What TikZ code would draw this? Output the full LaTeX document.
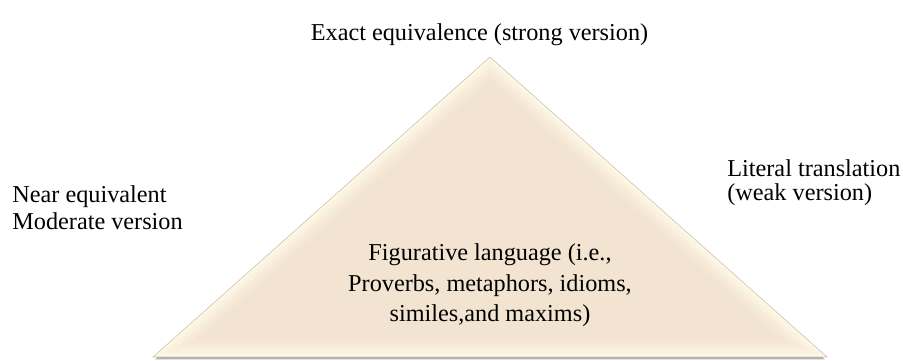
\documentclass[tikz,border=0pt]{standalone}
\usepackage{fontspec}
\setmainfont{Liberation Serif}
\usetikzlibrary{calc}
\definecolor{pyrtan}{RGB}{242,228,209}
\definecolor{pyrcream}{RGB}{255,250,233}
\definecolor{pyredge}{RGB}{200,186,170}
\tikzset{
  lbl/.style={inner sep=0pt, font=\fontsize{13.8}{15}\selectfont},
}
\begin{document}
\begin{tikzpicture}
\useasboundingbox (0,0) rectangle (18.06,7.22);
\coordinate (apex) at (9.80,6.08);
\coordinate (baseL) at (3.06,0.08);
\coordinate (baseR) at (16.54,0.08);
\coordinate (inc) at (9.80,2.646);
%
\fill[black!30] ($(baseL)+(0.04,-0.05)$)--($(baseR)+(-0.04,-0.05)$)--($(apex)+(0,-0.05)$)--cycle;
\foreach \k in {0,...,18}{
  \pgfmathsetmacro{\f}{1-\k*0.02/2.566}
  \pgfmathsetmacro{\p}{100*(\k/18)^0.8}
  \fill[pyrtan!\p!pyrcream] ($(inc)!\f!(apex)$)--($(inc)!\f!(baseL)$)--($(inc)!\f!(baseR)$)--cycle;
}
\draw[pyredge, line width=0.3pt] (apex)--(baseL)--(baseR)--cycle;
%
\node[lbl, anchor=base] (exact) at (9.59,6.40) {Exact equivalence (strong version)};
\node[lbl, anchor=base west, align=left, font=\fontsize{13.8}{15.1}\selectfont] (near) at (0.24,2.634) {Near equivalent\\Moderate version};
\node[lbl, anchor=base west, align=left, font=\fontsize{13.8}{13.7}\selectfont] (literal) at (14.54,3.21) {Literal translation\\(weak version)};
\node[lbl, anchor=base, align=center, font=\fontsize{13.8}{17.4}\selectfont] (fig) at (9.80,0.786)
  {Figurative language (i.e.,\\Proverbs, metaphors, idioms,\\similes,and maxims)};
\end{tikzpicture}
\end{document}
